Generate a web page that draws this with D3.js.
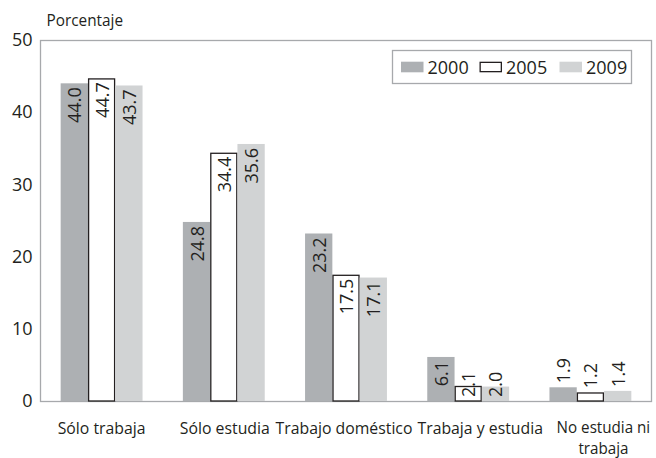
<!DOCTYPE html>
<html><head><meta charset="utf-8">
<script src="https://cdn.jsdelivr.net/npm/d3@7"></script>
<style>body{margin:0;background:#fff}svg{display:block}text{font-family:"Open Sans",sans-serif;fill:#231f20}</style>
</head><body><div id="c"></div>
<script>
const categories = ["Sólo trabaja","Sólo estudia","Trabajo doméstico","Trabaja y estudia","No estudia ni trabaja"];
const categoryLines = [["Sólo trabaja"],["Sólo estudia"],["Trabajo doméstico"],["Trabaja y estudia"],["No estudia ni","trabaja"]];
const years = ["2000","2005","2009"];
const v2000 = [44.0, 24.8, 23.2, 6.1, 1.9];
const v2005 = [44.7, 34.4, 17.5, 2.1, 1.2];
const v2009 = [43.7, 35.6, 17.1, 2.0, 1.4];
const yTicks = [0,10,20,30,40,50];
const yTitle = "Porcentaje";

const series = [v2000, v2005, v2009];
const fills = ["#adb0b3","#ffffff","#d1d3d4"];
const strokes = ["none","#231f20","none"];
const labelShift = [0, 1, -2, 12, 13];
const SX = 0.93;

const W = 656, H = 458;
const m = {l:40.5, r:4.5, t:40, b:57};
const svg = d3.select("#c").append("svg").attr("width",W).attr("height",H);

const x0 = d3.scaleBand().domain(categories).range([m.l, W-m.r]).paddingInner(0.33).paddingOuter(0.165);
const x1 = d3.scaleBand().domain(years).range([0, x0.bandwidth()]);
const y = d3.scaleLinear().domain([0,50]).range([H-m.b, m.t]);

// frame
svg.append("rect").attr("x",m.l).attr("y",y(50)+0.5).attr("width",W-m.r-m.l).attr("height",y(0)-y(50))
  .attr("fill","none").attr("stroke","#a7a9ac").attr("stroke-width",1.3);

// y axis labels
const yAxis = d3.axisLeft(y).tickValues(yTicks).tickSize(0).tickPadding(8);
const gy = svg.append("g").attr("transform",`translate(${m.l},0)`).call(yAxis);
gy.select(".domain").remove();
gy.selectAll("text").attr("font-size",18).style("font-family","'Open Sans',sans-serif").attr("fill","#231f20");

svg.append("g").attr("transform",`translate(46.5,26) scale(${SX},1)`)
  .append("text").attr("font-size",16.5).text(yTitle);

// bars
const data = [];
categories.forEach((c,i)=>years.forEach((yr,j)=>data.push({c, yr, j, v: series[j][i]})));

svg.append("g").selectAll("rect").data(data).join("rect")
  .attr("x", d=>x0(d.c)+x1(d.yr) + (d.j===1?0.65:0))
  .attr("y", d=>y(d.v) + (d.j===1?0.65:0))
  .attr("width", d=>x1.bandwidth() - (d.j===1?1.3:0))
  .attr("height", d=>y(0)-y(d.v) - (d.j===1?0.65:0))
  .attr("fill", d=>fills[d.j]).attr("stroke", d=>strokes[d.j]).attr("stroke-width",1.3);

// value labels
svg.append("g").selectAll("text").data(data).join("text")
  .attr("transform", d=>{
    const cx = x0(d.c)+x1(d.yr)+x1.bandwidth()/2;
    let ty;
    if (d.v >= 5) ty = y(d.v)+4;
    else if (d.v >= 2) ty = y(0)-4;
    else ty = y(d.v)-4;
    return `translate(${cx},${ty}) rotate(-90)`;
  })
  .attr("text-anchor", d=> d.v>=5 ? "end" : "start")
  .attr("dominant-baseline","central")
  .attr("font-size",18)
  .text(d=>d.v.toFixed(1));

// x labels
categories.forEach((c,i)=>{
  const cx = x0(c)+x0.bandwidth()/2 + labelShift[i];
  const lines = categoryLines[i];
  const multi = lines.length > 1;
  lines.forEach((ln,k)=>{
    const yy = multi ? 432.5 + k*21.5 : 434;
    svg.append("g").attr("transform",`translate(${cx},${yy}) scale(${multi?0.98:SX},1)`)
      .append("text").attr("text-anchor","middle").attr("font-size", multi?15.5:17).text(ln);
  });
});

// legend
const lg = svg.append("g");
lg.append("rect").attr("x",392.5).attr("y",50.5).attr("width",239).attr("height",33).attr("fill","#fff").attr("stroke","#a7a9ac").attr("stroke-width",1.3);
const lx = [401, 479.5, 559.5];
years.forEach((yr,j)=>{
  lg.append("rect").attr("x",lx[j] + (j===1?0.65:0)).attr("y",61.7 + (j===1?0.65:0))
    .attr("width",22.5 - (j===1?1.3:0)).attr("height",10.6 - (j===1?1.3:0))
    .attr("fill",fills[j]).attr("stroke",strokes[j]).attr("stroke-width",1.3);
  lg.append("text").attr("x",lx[j]+26.5).attr("y",74).attr("font-size",18).text(yr);
});
</script></body></html>
